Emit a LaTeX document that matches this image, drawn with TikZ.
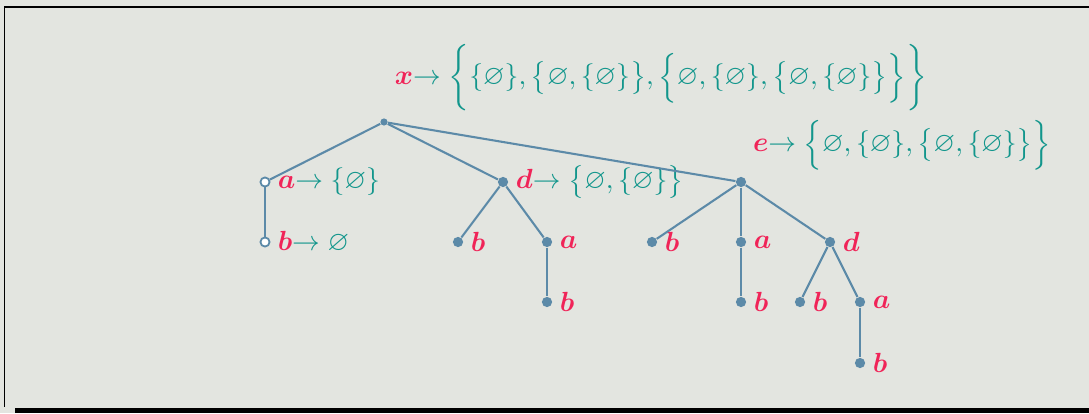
\documentclass[tikz,border=0pt]{standalone}
\usepackage{amsmath,amssymb,bm}
\usetikzlibrary{calc}

\definecolor{bgcol}{RGB}{227,229,224}
\definecolor{labred}{RGB}{240,36,88}
\definecolor{setteal}{RGB}{18,150,140}
\definecolor{edgeblue}{RGB}{92,138,168}

\newcommand{\lab}[1]{\textcolor{labred}{$\bm{#1}$}}
\newcommand{\maps}[2]{\textcolor{labred}{$\bm{#1}$}\textcolor{setteal}{$\to #2$}}

\begin{document}
\begin{tikzpicture}[x=0.0127cm, y=-0.0127cm,
    dot/.style={circle, fill=edgeblue, inner sep=0pt, minimum size=3.7pt},
    ring/.style={circle, draw=edgeblue, fill=white, line width=0.65pt, inner sep=0pt, minimum size=3.3pt},
    edge/.style={draw=edgeblue, line width=0.75pt},
    label distance=-0.9pt]
    %frame and background
        \useasboundingbox (0,0) rectangle (1089,413);
        \fill[bgcol] (0,0) rectangle (1089,413);
        \fill[black] (15,408) rectangle (1089,413);
        \draw[black, line width=0.55pt] (1089,7) -- (4.5,7) -- (4.5,407);

    %mark nodes of the tree
        \node[dot, minimum size=2.6pt, label={above right:\maps{x}{\biggl\{\{\varnothing\},\bigl\{\varnothing,\{\varnothing\}\bigr\},\Bigl\{\varnothing,\{\varnothing\},\bigl\{\varnothing,\{\varnothing\}\bigr\}\Bigr\}\biggr\}}}] (root) at (384,122) {};

        \node[ring, label={right:\maps{a}{\{\varnothing\}}}] (a1) at (265,182) {};
        \node[ring, label={right:\maps{b}{\varnothing}}] (b1) at (265,242) {};

        \node[dot, label={right:\maps{d}{\bigl\{\varnothing,\{\varnothing\}\bigr\}}}] (d1) at (503,182) {};
        \node[dot, label={right:\lab{b}}] (b2) at (458,242) {};
        \node[dot, label={right:\lab{a}}] (a2) at (547,242) {};
        \node[dot, label={right:\lab{b}}] (b3) at (547,302) {};

        \node[dot, label={above right:\maps{e}{\Bigl\{\varnothing,\{\varnothing\},\bigl\{\varnothing,\{\varnothing\}\bigr\}\Bigr\}}}] (e1) at (741,182) {};
        \node[dot, label={right:\lab{b}}] (b4) at (652,242) {};
        \node[dot, label={right:\lab{a}}] (a3) at (741,242) {};
        \node[dot, label={right:\lab{b}}] (b5) at (741,302) {};
        \node[dot, label={right:\lab{d}}] (d2) at (830,242) {};
        \node[dot, label={right:\lab{b}}] (b6) at (800,302) {};
        \node[dot, label={right:\lab{a}}] (a4) at (860,302) {};
        \node[dot, label={right:\lab{b}}] (b7) at (860,363) {};

    %draw edges
        \draw[edge] (root) -- (a1);
        \draw[edge] (root) -- (d1);
        \draw[edge] (root) -- (e1);
        \draw[edge] (a1) -- (b1);
        \draw[edge] (d1) -- (b2);
        \draw[edge] (d1) -- (a2);
        \draw[edge] (a2) -- (b3);
        \draw[edge] (e1) -- (b4);
        \draw[edge] (e1) -- (a3);
        \draw[edge] (e1) -- (d2);
        \draw[edge] (a3) -- (b5);
        \draw[edge] (d2) -- (b6);
        \draw[edge] (d2) -- (a4);
        \draw[edge] (a4) -- (b7);

\end{tikzpicture}
\end{document}
